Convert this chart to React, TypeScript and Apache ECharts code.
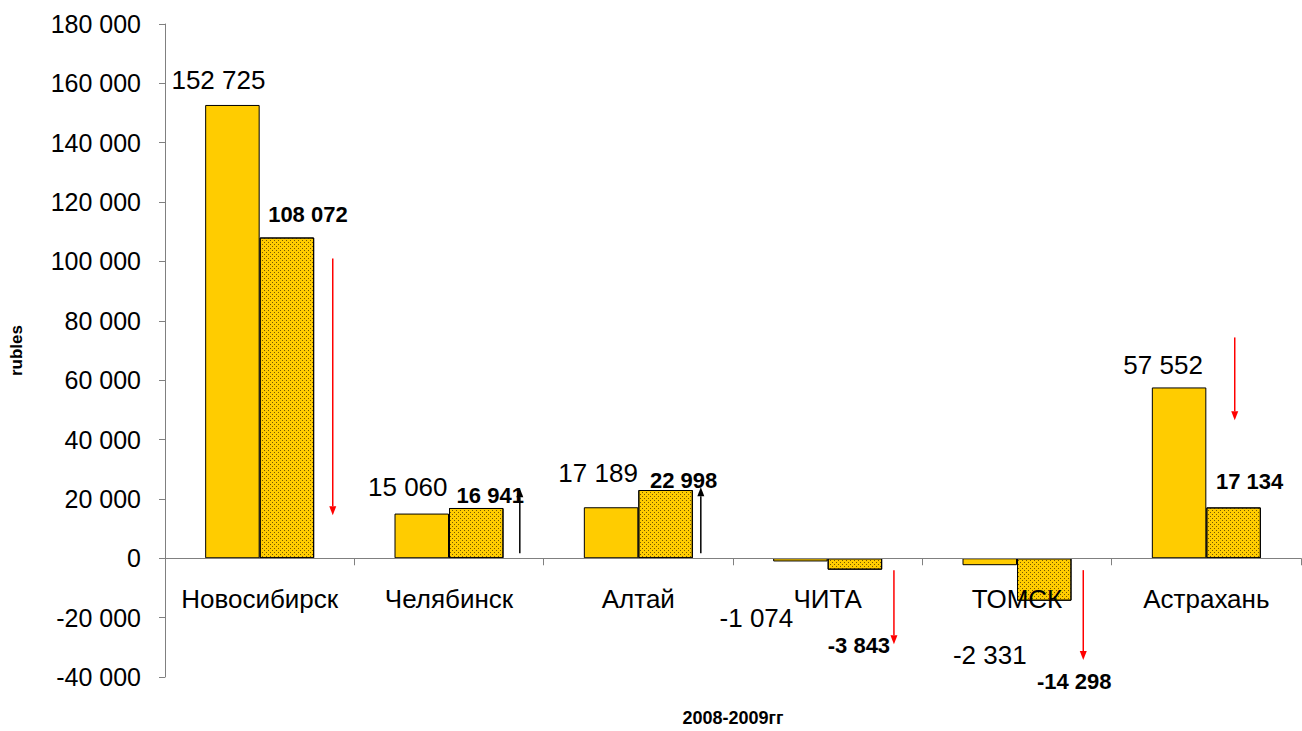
import React, { useEffect, useRef } from "react";
import * as echarts from "echarts";

const categories = ["Новосибирск", "Челябинск", "Алтай", "ЧИТА", "ТОМСК", "Астрахань"];
const values2008 = [152725, 15060, 17189, -1074, -2331, 57552];
const values2009 = [108072, 16941, 22998, -3843, -14298, 17134];
const yMin = -40000;
const yMax = 180000;
const yStep = 20000;

// arrows (annotations): start and end values per category
const arrowFrom = [101000, 1700, 1700, -4000, -4000, 74400];
const arrowTo = [14500, 23600, 23900, -29000, -34300, 46500];
const arrowColors = ["#FF0000", "#000000", "#000000", "#FF0000", "#FF0000", "#FF0000"];

// layout only
const arrowShift = [0.386, 0.374, 0.33, 0.35, 0.35, 0.15];
const labelOffsets2008 = [[-14, -12], [-14, -14], [-13, -21], [-44, 44], [0, 77], [-16, -9]];
const labelOffsets2009 = [[21, -12], [14, -1], [18, 1], [4, 65], [30, 70], [16, -15]];

const FONT = "'Liberation Sans', Arial, sans-serif";

function fmt(v: number): string {
  const s = Math.abs(Math.round(v)).toString().replace(/\B(?=(\d{3})+(?!\d))/g, " ");
  return (v < 0 ? "-" : "") + s;
}

export default function App() {
  const ref = useRef<HTMLDivElement>(null);
  useEffect(() => {
    if (!ref.current) return;
    const chart = echarts.init(ref.current, undefined, { renderer: "svg" });
    const yellow = "#FFCC00";
    chart.setOption({
      animation: false,
      backgroundColor: "#FFFFFF",
      textStyle: { fontFamily: FONT, color: "#000" },
      grid: { left: 165, right: 1, top: 24, bottom: 54, containLabel: false, outerBoundsMode: "none" },
      xAxis: {
        type: "category",
        data: categories,
        z: 5,
        name: "2008-2009гг",
        nameLocation: "middle",
        nameGap: 32,
        nameTextStyle: { fontFamily: FONT, fontWeight: "bold", fontSize: 18, color: "#000" },
        axisLine: { show: true, onZero: true, lineStyle: { color: "#808080", width: 1 } },
        axisTick: { show: true, alignWithLabel: false, length: 7, lineStyle: { color: "#808080" } },
        axisLabel: { fontFamily: FONT, fontSize: 26, color: "#000", margin: -91, interval: 0 },
        splitLine: { show: false },
      },
      yAxis: {
        type: "value",
        min: yMin,
        max: yMax,
        interval: yStep,
        name: "rubles",
        nameLocation: "middle",
        nameGap: 140,
        nameRotate: 90,
        nameTextStyle: { fontFamily: FONT, fontWeight: "bold", fontSize: 17, color: "#000" },
        axisLine: { show: true, lineStyle: { color: "#808080", width: 1 } },
        axisTick: { show: true, length: 6, lineStyle: { color: "#808080" } },
        axisLabel: { fontFamily: FONT, fontSize: 25, color: "#000", margin: 24, formatter: (v: number) => fmt(v) },
        splitLine: { show: false },
      },
      series: [
        {
          name: "2008",
          type: "bar",
          barWidth: 54.5,
          barGap: "0%",
          itemStyle: { color: yellow, borderColor: "#000", borderWidth: 1 },
          label: {
            show: true,
            distance: 0,
            fontFamily: FONT,
            fontSize: 26,
            color: "#000",
            formatter: (p: any) => fmt(p.value),
          },
          data: values2008.map((v, i) => ({
            value: v,
            label: { position: v < 0 ? "bottom" : "top", offset: labelOffsets2008[i] },
          })),
        },
        {
          name: "2009",
          type: "bar",
          barWidth: 54.5,
          barGap: "0%",
          itemStyle: {
            color: yellow,
            borderColor: "#000",
            borderWidth: 1,
            decal: {
              symbol: "rect",
              symbolSize: 1,
              color: "rgba(70,50,0,0.75)",
              dashArrayX: [[1, 3], [0, 2, 1, 1]],
              dashArrayY: [1, 1],
              rotation: 0,
            },
          },
          label: {
            show: true,
            distance: 0,
            fontFamily: FONT,
            fontSize: 22,
            fontWeight: "bold",
            color: "#000",
            formatter: (p: any) => fmt(p.value),
          },
          data: values2009.map((v, i) => ({
            value: v,
            label: { position: v < 0 ? "bottom" : "top", offset: labelOffsets2009[i] },
          })),
        },
        {
          name: "arrows",
          type: "custom",
          silent: true,
          clip: false,
          z: 10,
          data: categories.map((_, i) => [i, arrowFrom[i], arrowTo[i]]),
          renderItem: (params: any, api: any) => {
            const idx = api.value(0);
            const p1 = api.coord([idx, api.value(1)]);
            const p2 = api.coord([idx, api.value(2)]);
            const band = api.size([1, 0])[0];
            const x = p1[0] + arrowShift[idx] * band;
            const dir = p2[1] > p1[1] ? 1 : -1;
            const headLen = 9;
            const headW = 3.5;
            const color = arrowColors[idx];
            const baseY = p2[1] - dir * headLen;
            return {
              type: "group",
              children: [
                {
                  type: "line",
                  shape: { x1: x, y1: p1[1], x2: x, y2: baseY },
                  style: { stroke: color, lineWidth: 1.5 },
                },
                {
                  type: "polygon",
                  shape: { points: [[x - headW, baseY], [x + headW, baseY], [x, p2[1]]] },
                  style: { fill: color },
                },
              ],
            };
          },
        },
      ],
    });
    return () => chart.dispose();
  }, []);
  return (
    <div
      ref={ref}
      style={{ position: "absolute", left: 0, top: 0, width: 1302, height: 731, background: "#fff" }}
    />
  );
}
